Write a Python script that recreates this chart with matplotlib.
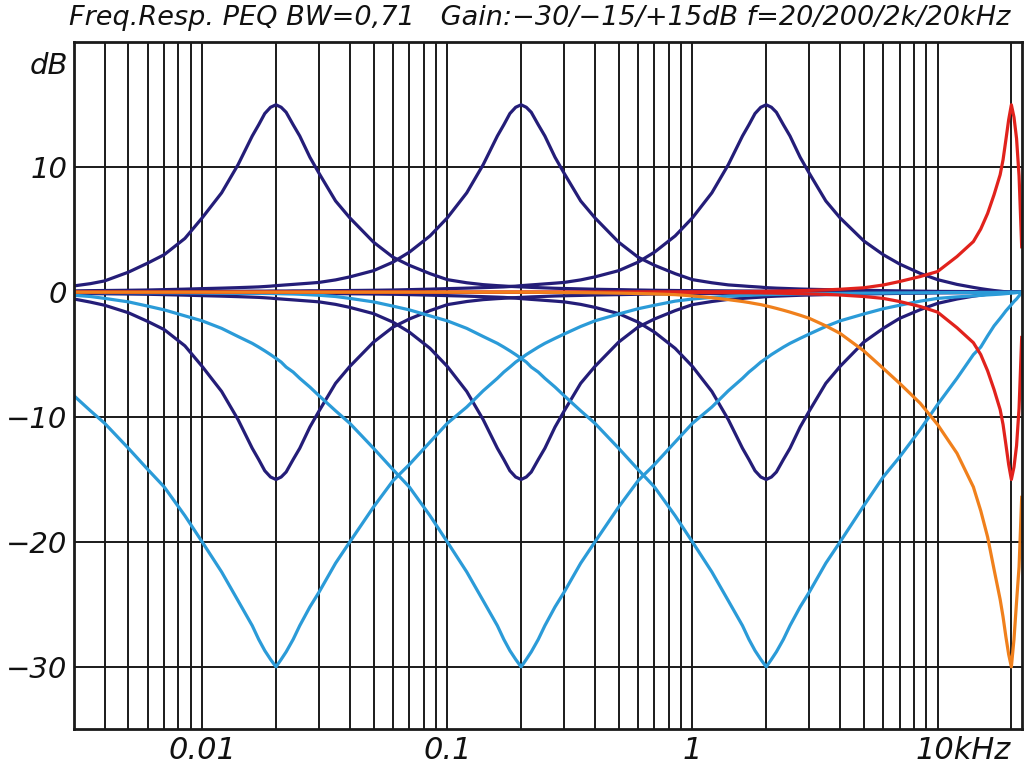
import matplotlib
matplotlib.use('Agg')
import matplotlib.pyplot as plt
from matplotlib.ticker import FixedLocator, NullFormatter
from matplotlib.transforms import blended_transform_factory, ScaledTranslation

# frequency grid (kHz), read along the log axis
freq_khz = [0.003, 0.0035, 0.004, 0.005, 0.006, 0.007, 0.0085,
            0.01, 0.012, 0.014, 0.016, 0.017, 0.018, 0.019, 0.02, 0.021, 0.022, 0.0235, 0.025, 0.0275, 0.03, 0.035, 0.04, 0.05, 0.06, 0.07, 0.085,
            0.1, 0.12, 0.14, 0.16, 0.17, 0.18, 0.19, 0.2, 0.21, 0.22, 0.235, 0.25, 0.275, 0.3, 0.35, 0.4, 0.5, 0.6, 0.7, 0.85,
            1.0, 1.2, 1.4, 1.6, 1.7, 1.8, 1.9, 2.0, 2.1, 2.2, 2.35, 2.5, 2.75, 3.0, 3.5, 4.0, 5.0, 6.0, 7.0, 8.5,
            10, 12, 14, 15, 16, 17, 18, 18.5, 19, 19.5, 20, 20.5, 21, 21.5, 22.05]

# +15 dB / -15 dB / -30 dB at 20 Hz
boost_20 = [0.5, 0.68, 0.9, 1.6, 2.33, 3.0, 4.3,
            5.95, 7.95, 10.2, 12.5, 13.4, 14.3, 14.8, 15.0, 14.8, 14.4, 13.4, 12.5, 10.8, 9.5, 7.3, 5.95, 4.0, 2.8, 2.15, 1.48,
            1.0, 0.75, 0.6, 0.52, 0.49, 0.46, 0.44, 0.42, 0.4, 0.38, 0.36, 0.34, 0.31, 0.29, 0.26, 0.23, 0.2, 0.17, 0.15, 0.13,
            0.12, 0.11, 0.1, 0.09, 0.09, 0.08, 0.08, 0.08, 0.08, 0.07, 0.07, 0.07, 0.06, 0.06, 0.05, 0.05, 0.04, 0.04, 0.03, 0.03,
            0.02, 0.02, 0.01, 0.01, 0.01, 0.01, 0.0, 0.0, 0.0, 0.0, 0.0, 0.0, 0.0, 0.0, 0.0]
cut_20 = [-0.55, -0.8, -1.05, -1.65, -2.35, -3.0, -4.3,
          -5.95, -7.95, -10.2, -12.5, -13.4, -14.3, -14.8, -15.0, -14.8, -14.4, -13.4, -12.5, -10.8, -9.5, -7.3, -5.95, -4.0, -2.8, -2.15, -1.48,
          -1.0, -0.75, -0.6, -0.52, -0.49, -0.46, -0.44, -0.42, -0.4, -0.38, -0.36, -0.34, -0.31, -0.29, -0.26, -0.23, -0.2, -0.17, -0.15, -0.13,
          -0.12, -0.11, -0.1, -0.09, -0.09, -0.08, -0.08, -0.08, -0.08, -0.07, -0.07, -0.07, -0.06, -0.06, -0.05, -0.05, -0.04, -0.04, -0.03, -0.03,
          -0.02, -0.02, -0.01, -0.01, -0.01, -0.01, 0.0, 0.0, 0.0, 0.0, 0.0, 0.0, 0.0, 0.0, 0.0]
deep_20 = [-8.3, -9.5, -10.5, -12.5, -14.2, -15.6, -17.9,
           -20.0, -22.4, -24.7, -26.7, -27.8, -28.7, -29.4, -30.0, -29.4, -28.8, -27.8, -26.7, -25.2, -24.0, -21.7, -20.0, -17.2, -15.1, -13.8, -12.0,
           -10.5, -9.2, -7.9, -6.9, -6.4, -6.0, -5.6, -5.3, -5.0, -4.75, -4.4, -4.1, -3.7, -3.35, -2.75, -2.3, -1.75, -1.33, -1.05, -0.72,
           -0.55, -0.42, -0.32, -0.27, -0.25, -0.23, -0.21, -0.2, -0.19, -0.18, -0.17, -0.16, -0.14, -0.13, -0.11, -0.1, -0.08, -0.07, -0.06, -0.05,
           -0.04, -0.03, -0.03, -0.02, -0.02, -0.02, -0.01, -0.01, -0.01, 0.0, 0.0, 0.0, 0.0, 0.0, 0.0]

# same gains at 200 Hz
boost_200 = [0.1, 0.12, 0.13, 0.15, 0.17, 0.2, 0.24,
             0.28, 0.32, 0.36, 0.4, 0.42, 0.45, 0.48, 0.52, 0.55, 0.58, 0.62, 0.66, 0.72, 0.78, 0.98, 1.22, 1.72, 2.4, 3.2, 4.5,
             5.95, 7.95, 10.2, 12.5, 13.4, 14.3, 14.8, 15.0, 14.8, 14.4, 13.4, 12.5, 10.8, 9.5, 7.3, 5.95, 4.0, 2.8, 2.15, 1.48,
             1.0, 0.75, 0.58, 0.5, 0.46, 0.43, 0.4, 0.36, 0.34, 0.32, 0.3, 0.28, 0.25, 0.23, 0.2, 0.18, 0.15, 0.12, 0.1, 0.08,
             0.06, 0.05, 0.04, 0.03, 0.02, 0.02, 0.01, 0.01, 0.0, 0.0, 0.0, 0.0, 0.0, 0.0, 0.0]
cut_200 = [-0.1, -0.12, -0.13, -0.15, -0.17, -0.2, -0.24,
           -0.28, -0.32, -0.36, -0.4, -0.42, -0.45, -0.48, -0.52, -0.55, -0.58, -0.62, -0.66, -0.72, -0.78, -0.98, -1.22, -1.72, -2.4, -3.2, -4.5,
           -5.95, -7.95, -10.2, -12.5, -13.4, -14.3, -14.8, -15.0, -14.8, -14.4, -13.4, -12.5, -10.8, -9.5, -7.3, -5.95, -4.0, -2.8, -2.15, -1.48,
           -1.0, -0.75, -0.58, -0.5, -0.46, -0.43, -0.4, -0.36, -0.34, -0.32, -0.3, -0.28, -0.25, -0.23, -0.2, -0.18, -0.15, -0.12, -0.1, -0.08,
           -0.06, -0.05, -0.04, -0.03, -0.02, -0.02, -0.01, -0.01, 0.0, 0.0, 0.0, 0.0, 0.0, 0.0, 0.0]
deep_200 = [-0.25, -0.35, -0.5, -0.78, -1.12, -1.42, -1.9,
            -2.3, -2.9, -3.55, -4.1, -4.4, -4.7, -5.0, -5.3, -5.6, -6.0, -6.4, -6.9, -7.6, -8.3, -9.5, -10.5, -12.5, -14.2, -15.6, -17.9,
            -20.0, -22.4, -24.7, -26.7, -27.8, -28.7, -29.4, -30.0, -29.4, -28.8, -27.8, -26.7, -25.2, -24.0, -21.7, -20.0, -17.2, -15.1, -13.8, -12.0,
            -10.5, -9.2, -7.9, -6.9, -6.4, -6.0, -5.6, -5.3, -5.0, -4.75, -4.4, -4.1, -3.7, -3.35, -2.75, -2.3, -1.75, -1.33, -1.05, -0.72,
            -0.5, -0.38, -0.3, -0.26, -0.22, -0.19, -0.16, -0.14, -0.12, -0.1, -0.08, -0.06, -0.04, -0.02, 0.0]

# same gains at 2 kHz
boost_2k = [0.04, 0.04, 0.05, 0.05, 0.05, 0.05, 0.06,
            0.06, 0.07, 0.07, 0.08, 0.08, 0.08, 0.09, 0.09, 0.09, 0.09, 0.1, 0.1, 0.11, 0.11, 0.12, 0.13, 0.15, 0.17, 0.2, 0.24,
            0.28, 0.32, 0.36, 0.4, 0.42, 0.45, 0.48, 0.52, 0.55, 0.58, 0.62, 0.66, 0.72, 0.78, 0.98, 1.22, 1.72, 2.4, 3.2, 4.5,
            5.95, 7.95, 10.2, 12.5, 13.4, 14.3, 14.8, 15.0, 14.8, 14.4, 13.4, 12.5, 10.8, 9.5, 7.3, 5.95, 4.1, 3.0, 2.25, 1.5,
            1.0, 0.62, 0.38, 0.28, 0.2, 0.13, 0.08, 0.05, 0.03, 0.01, 0.0, 0.0, 0.0, 0.0, 0.0]
cut_2k = [-0.04, -0.04, -0.05, -0.05, -0.05, -0.05, -0.06,
          -0.06, -0.07, -0.07, -0.08, -0.08, -0.08, -0.09, -0.09, -0.09, -0.09, -0.1, -0.1, -0.11, -0.11, -0.12, -0.13, -0.15, -0.17, -0.2, -0.24,
          -0.28, -0.32, -0.36, -0.4, -0.42, -0.45, -0.48, -0.52, -0.55, -0.58, -0.62, -0.66, -0.72, -0.78, -0.98, -1.22, -1.72, -2.4, -3.2, -4.5,
          -5.95, -7.95, -10.2, -12.5, -13.4, -14.3, -14.8, -15.0, -14.8, -14.4, -13.4, -12.5, -10.8, -9.5, -7.3, -5.95, -4.0, -2.9, -2.1, -1.4,
          -0.9, -0.55, -0.32, -0.24, -0.16, -0.1, -0.06, -0.04, -0.02, -0.01, 0.0, 0.0, 0.0, 0.0, 0.0]
deep_2k = [-0.03, -0.03, -0.04, -0.04, -0.05, -0.05, -0.06,
           -0.07, -0.08, -0.09, -0.1, -0.1, -0.11, -0.11, -0.12, -0.13, -0.14, -0.15, -0.17, -0.21, -0.25, -0.35, -0.5, -0.78, -1.12, -1.42, -1.9,
           -2.3, -2.9, -3.55, -4.1, -4.4, -4.7, -5.0, -5.3, -5.6, -6.0, -6.4, -6.9, -7.6, -8.3, -9.5, -10.5, -12.5, -14.2, -15.6, -17.9,
           -20.0, -22.4, -24.7, -26.7, -27.8, -28.7, -29.4, -30.0, -29.4, -28.8, -27.8, -26.7, -25.2, -24.0, -21.7, -20.0, -17.1, -14.8, -13.2, -11.0,
           -9.0, -6.9, -5.0, -4.4, -3.5, -2.7, -2.1, -1.8, -1.5, -1.25, -1.0, -0.75, -0.55, -0.3, 0.0]

# same gains at 20 kHz
boost_20k = [0.0, 0.0, 0.0, 0.0, 0.0, 0.0, 0.0,
             0.0, 0.0, 0.0, 0.0, 0.0, 0.0, 0.0, 0.0, 0.0, 0.0, 0.0, 0.0, 0.0, 0.0, 0.0, 0.0, 0.0, 0.0, 0.0, 0.0,
             0.0, 0.0, 0.0, 0.0, 0.0, 0.0, 0.0, 0.0, 0.0, 0.0, 0.0, 0.0, 0.01, 0.01, 0.01, 0.01, 0.01, 0.02, 0.02, 0.02,
             0.03, 0.03, 0.04, 0.05, 0.05, 0.06, 0.06, 0.07, 0.07, 0.08, 0.09, 0.1, 0.12, 0.14, 0.18, 0.23, 0.35, 0.57, 0.85, 1.25,
             1.65, 2.85, 4.05, 5.05, 6.3, 7.8, 9.4, 10.6, 12.2, 13.8, 15.0, 14.0, 12.3, 9.3, 3.5]
cut_20k = [0.0, 0.0, 0.0, 0.0, 0.0, 0.0, 0.0,
           0.0, 0.0, 0.0, 0.0, 0.0, 0.0, 0.0, 0.0, 0.0, 0.0, 0.0, 0.0, 0.0, 0.0, 0.0, 0.0, 0.0, 0.0, 0.0, 0.0,
           0.0, 0.0, 0.0, 0.0, 0.0, 0.0, 0.0, 0.0, 0.0, 0.0, 0.0, 0.0, -0.01, -0.01, -0.01, -0.01, -0.01, -0.02, -0.02, -0.02,
           -0.03, -0.03, -0.04, -0.05, -0.05, -0.06, -0.06, -0.07, -0.07, -0.08, -0.09, -0.1, -0.12, -0.14, -0.18, -0.23, -0.35, -0.5, -0.75, -1.15,
           -1.6, -2.85, -4.05, -5.0, -6.3, -7.8, -9.4, -10.6, -12.2, -13.8, -15.0, -14.0, -12.3, -9.3, -3.5]
deep_20k = [0.0, 0.0, 0.0, 0.0, 0.0, 0.0, 0.0,
            0.0, 0.0, 0.0, 0.0, 0.0, 0.0, 0.0, 0.0, 0.0, 0.0, 0.0, 0.0, 0.0, 0.0, 0.0, 0.0, 0.0, 0.0, 0.0, 0.0,
            0.0, 0.0, 0.0, 0.0, 0.0, 0.0, 0.0, 0.0, 0.0, -0.01, -0.01, -0.01, -0.02, -0.03, -0.04, -0.05, -0.08, -0.11, -0.14, -0.2,
            -0.3, -0.45, -0.6, -0.75, -0.83, -0.92, -1.0, -1.1, -1.2, -1.3, -1.45, -1.6, -1.85, -2.1, -2.7, -3.3, -4.7, -6.1, -7.3, -8.9,
            -10.6, -12.9, -15.6, -17.5, -19.6, -22.2, -24.6, -26.0, -27.6, -29.0, -30.0, -27.8, -24.8, -22.0, -16.3]

navy = '#241d78'
sky = '#2b9bd8'
red = '#e1221c'
orange = '#f0801c'

curves = [
    (boost_20, navy), (cut_20, navy), (boost_200, navy), (cut_200, navy), (boost_2k, navy), (cut_2k, navy),
    (deep_20, sky), (deep_200, sky), (deep_2k, sky),
    (boost_20k, red), (cut_20k, red),
    (deep_20k, orange),
]

fig = plt.figure(figsize=(10.24, 7.64), dpi=100)
ax = fig.add_axes([0.0723, 0.0454, 0.9255, 0.8992])

for vals, col in curves:
    ax.plot(freq_khz, vals, color=col, lw=2.3, solid_joinstyle='round', solid_capstyle='butt')

ax.set_xscale('log')
ax.set_xlim(0.003, 22.05)
ax.set_ylim(-35, 20)
ax.set_axisbelow(True)

# grid: every 1..9 step of each decade, major labels at 0.01 / 0.1 / 1
ax.xaxis.set_major_locator(FixedLocator([0.01, 0.1, 1]))
ax.set_xticklabels(['0.01', '0.1', '1'], fontstyle='italic', fontsize=22)
minor = [m * 10.0 ** e for e in range(-3, 2) for m in range(1, 10)]
minor = [v for v in minor if 0.0031 < v < 22 and v not in (0.01, 0.1, 1)]
ax.xaxis.set_minor_locator(FixedLocator(minor))
ax.xaxis.set_minor_formatter(NullFormatter())
ax.set_yticks([-30, -20, -10, 0, 10])
ax.set_yticklabels(['\u221230', '\u221220', '\u221210', '0', '10'], fontstyle='italic', fontsize=21)

ax.grid(which='both', axis='x', color='#1a1a1a', lw=1.4)
ax.grid(which='major', axis='y', color='#1a1a1a', lw=1.4)
ax.tick_params(which='both', length=0, pad=5, colors='#111111')
for s in ax.spines.values():
    s.set_linewidth(2.0)
    s.set_color('#1a1a1a')

trans = blended_transform_factory(ax.transData, ax.transAxes) + ScaledTranslation(-0.22, -0.07, fig.dpi_scale_trans)
ax.text(10, 0, '10kHz', transform=trans, ha='left', va='top', fontsize=22, fontstyle='italic', color='#111111')

fig.text(68 / 1024, 1 - 66 / 764, 'dB', ha='right', va='center', fontsize=21, fontstyle='italic', color='#111111')
fig.text(0.527, 0.976, 'Freq.Resp. PEQ BW=0,71   Gain:\u221230/\u221215/+15dB f=20/200/2k/20kHz',
         ha='center', va='center', fontsize=19.5, fontstyle='italic', color='#111111')

fig.savefig('out.png', dpi=100)
